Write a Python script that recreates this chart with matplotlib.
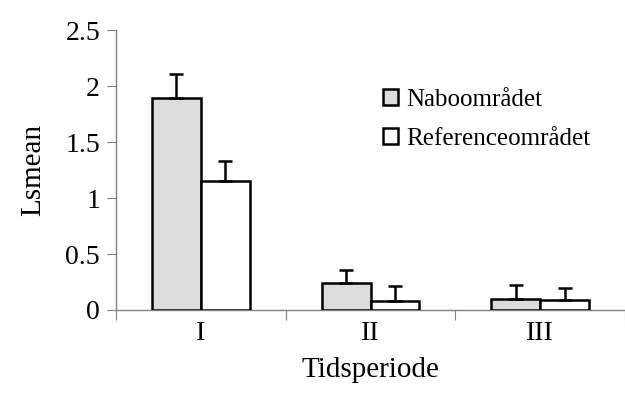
import matplotlib
matplotlib.use("Agg")
import matplotlib.pyplot as plt
import numpy as np

# Data
periods = ['I', 'II', 'III']
nabo_mean = [1.89, 0.24, 0.10]
nabo_err = [0.22, 0.12, 0.12]
ref_mean = [1.15, 0.08, 0.085]
ref_err = [0.18, 0.13, 0.11]
series_names = ['Naboområdet', 'Referenceområdet']

plt.rcParams['font.family'] = ['Liberation Serif', 'DejaVu Serif']

fig = plt.figure(figsize=(6.25, 4.12), dpi=100)
ax = fig.add_axes([0.1856, 0.2476, 0.8144, 0.6794])

x = np.arange(len(periods))
w = 0.288
err_kw = dict(ecolor='black', elinewidth=1.8, capsize=5, capthick=1.8)

ax.bar(x - w / 2, nabo_mean, w, color='#dcdcdc', edgecolor='black', linewidth=1.8,
       yerr=[np.zeros(3), nabo_err], error_kw=err_kw, label=series_names[0], zorder=3)
ax.bar(x + w / 2, ref_mean, w, color='white', edgecolor='black', linewidth=1.8,
       yerr=[np.zeros(3), ref_err], error_kw=err_kw, label=series_names[1], zorder=3)

ax.set_xlim(-0.5, 2.5)
ax.set_ylim(0, 2.5)
ax.set_yticks([0, 0.5, 1, 1.5, 2, 2.5])
ax.set_yticklabels(['0', '0.5', '1', '1.5', '2', '2.5'])

# boundary ticks on x, labels at category centres without marks
ax.set_xticks([-0.5, 0.5, 1.5, 2.5])
ax.set_xticklabels([])
ax.set_xticks(x, minor=True)
ax.set_xticklabels(periods, minor=True)
ax.tick_params(axis='x', which='minor', length=0, pad=8, labelsize=20)
ax.tick_params(axis='x', which='major', length=7, color='#808080', direction='out')
ax.tick_params(axis='y', length=6.5, color='#808080', direction='out', labelsize=20, pad=5)

for side in ['top', 'right']:
    ax.spines[side].set_visible(False)
for side in ['left', 'bottom']:
    ax.spines[side].set_color('#808080')
    ax.spines[side].set_linewidth(1.0)

ax.set_xlabel('Tidsperiode', fontsize=21, labelpad=8)
ax.set_ylabel('Lsmean', fontsize=21, labelpad=14)

ax.legend(loc='upper left', bbox_to_anchor=(0.612, 0.785), bbox_transform=fig.transFigure,
          frameon=False, fontsize=18, handlelength=0.6, handleheight=0.6,
          handletextpad=0.35, labelspacing=0.7, borderaxespad=0, borderpad=0)

fig.savefig('out.png', dpi=100)
